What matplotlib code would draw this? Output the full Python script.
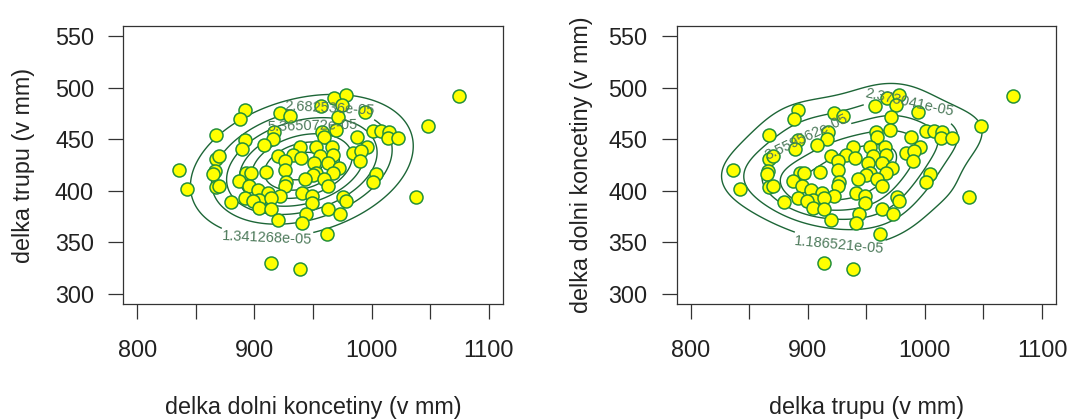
import numpy as np
import matplotlib
matplotlib.use("Agg")
import matplotlib.pyplot as plt

plt.rcParams['font.family'] = ['Liberation Sans', 'DejaVu Sans']

# delka dolni koncetiny (x) a delka trupu (y), mm
dolni = [968, 978, 975, 957, 1075, 892, 888, 922, 930, 994, 971, 867, 1048, 970,
         958, 959, 988, 1001, 1008, 1015, 1014, 1023, 917, 916, 892, 908, 889, 939,
         953, 966, 984, 996, 991, 867, 870, 920, 933, 940, 956, 967, 990, 926, 866,
         865, 893, 897, 910, 926, 951, 963, 972, 953, 950, 967, 1004, 887, 895, 903,
         927, 926, 943, 959, 963, 1001, 867, 870, 912, 922, 904, 914, 892, 899, 880,
         941, 949, 949, 976, 978, 904, 914, 944, 963, 973, 920, 941, 962, 836, 842,
         1038, 914, 939]
trup = [490, 493, 483, 482, 492, 478, 470, 475, 473, 476, 472, 454, 463, 459,
        457, 452, 452, 458, 458, 457, 451, 451, 457, 450, 449, 444, 441, 442,
        442, 442, 437, 442, 439, 431, 434, 434, 435, 432, 434, 435, 429, 429, 419,
        416, 417, 417, 418, 420, 427, 427, 422, 417, 415, 417, 416, 409, 405, 401,
        408, 405, 411, 411, 405, 408, 404, 405, 398, 395, 391, 393, 393, 390, 389,
        398, 395, 388, 394, 390, 383, 382, 377, 382, 377, 372, 369, 358, 420, 402,
        394, 330, 324]

krok_norm = 1.341268e-05     # krok vrstevnic - normalni rozdeleni
krok_kde = 1.18652055e-05    # krok vrstevnic - jadrovy odhad

x = np.array(dolni, dtype=float)
y = np.array(trup, dtype=float)

line_col = '#1d6637'
lab_col = '#4d7a5b'
pt_edge = '#23903a'
pt_fill = '#ffff00'


def bw_nrd(v):
    q1, q3 = np.percentile(v, [25, 75])
    return 4 * 1.06 * min(np.std(v, ddof=1), (q3 - q1) / 1.34) * len(v) ** (-0.2)


def kde2d(x, y, gx, gy, fak=1.3):
    hx = fak * bw_nrd(x) / 4
    hy = fak * bw_nrd(y) / 4
    ax_ = (gx[:, None] - x[None, :]) / hx
    ay_ = (gy[:, None] - y[None, :]) / hy
    dx = np.exp(-0.5 * ax_ ** 2) / np.sqrt(2 * np.pi)
    dy = np.exp(-0.5 * ay_ ** 2) / np.sqrt(2 * np.pi)
    z = dx @ dy.T / (len(x) * hx * hy)
    return z.T


gx = np.linspace(790, 1110, 200)
gy = np.linspace(290, 560, 200)

# dvourozmerne normalni rozdeleni
mu = np.array([x.mean(), y.mean()])
S = np.cov(x, y)
Si = np.linalg.inv(S)
GX, GY = np.meshgrid(gx, gy)
dX = GX - mu[0]
dY = GY - mu[1]
q = Si[0, 0] * dX ** 2 + 2 * Si[0, 1] * dX * dY + Si[1, 1] * dY ** 2
zn = np.exp(-0.5 * q) / (2 * np.pi * np.sqrt(np.linalg.det(S)))

zk = kde2d(x, y, gx, gy)

fig = plt.figure(figsize=(10.7, 4.19), dpi=100)
ax1 = fig.add_axes([0.1152, 0.2745, 0.3546, 0.6635])
ax2 = fig.add_axes([0.6324, 0.2745, 0.3546, 0.6635])

# ktere vrstevnice popsat a kde (priblizne)
popisky1 = {1: (911, 364), 2: (964, 469), 4: (951, 442)}
popisky2 = {1: (929, 363), 2: (983, 471), 3: (902, 445)}

panels = [
    (ax1, zn, krok_norm, popisky1, 'delka dolni koncetiny (v mm)', 'delka trupu (v mm)', -0.264),
    (ax2, zk, krok_kde, popisky2, 'delka trupu (v mm)', 'delka dolni koncetiny (v mm)', -0.25),
]

for ax, cz, krok, pop, xl, yl, ylx in panels:
    ks = [k for k in range(1, 10) if krok * k < cz.max()]
    bez = [krok * k for k in ks if k not in pop]
    if bez:
        ax.contour(gx, gy, cz, levels=bez, colors=line_col, linewidths=1.0, zorder=2)
    for k in ks:
        if k in pop:
            cs = ax.contour(gx, gy, cz, levels=[krok * k], colors=line_col,
                            linewidths=1.0, zorder=2)
            ax.clabel(cs, fmt='%.6e', fontsize=10.5, colors=lab_col,
                      inline=True, inline_spacing=2, manual=[pop[k]])
    ax.scatter(x, y, s=88, c=pt_fill, edgecolors=pt_edge, linewidths=1.1, zorder=3)

    ax.set_xlim(788, 1112)
    ax.set_ylim(290, 560)
    ax.set_xticks(np.arange(800, 1101, 50))
    ax.set_xticklabels(['800', '', '900', '', '1000', '', '1100'])
    ax.set_yticks(np.arange(300, 551, 50))
    ax.tick_params(axis='both', direction='out', length=11, width=0.9,
                   color='#333333', labelsize=16.8, labelcolor='#222222')
    ax.tick_params(axis='x', pad=14)
    ax.tick_params(axis='y', pad=10)
    for sp in ax.spines.values():
        sp.set_color('#333333')
        sp.set_linewidth(0.9)

    ax.set_xlabel(xl, fontsize=16.8, color='#222222')
    ax.xaxis.label.set_va('center')
    ax.xaxis.set_label_coords(0.5, -0.374)
    ax.set_ylabel(yl, fontsize=16.8, color='#222222')
    ax.yaxis.label.set_va('center')
    ax.yaxis.set_label_coords(ylx, 0.5)

fig.savefig('out.png', dpi=100)
